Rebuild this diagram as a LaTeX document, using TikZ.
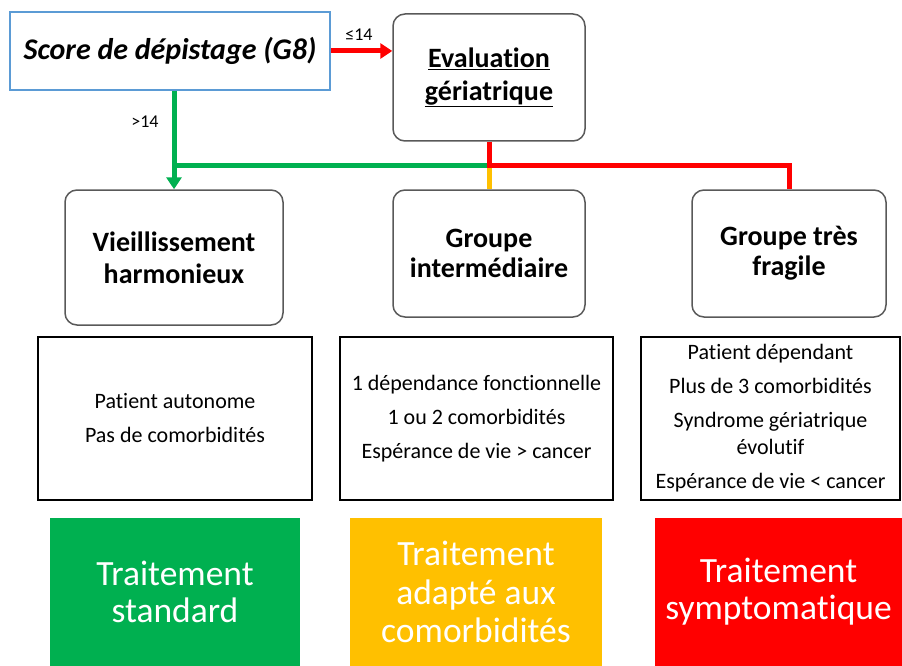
\documentclass[tikz,border=0pt]{standalone}
\usepackage{fontspec}
\setmainfont{Carlito}[Ligatures={NoCommon}]
\usetikzlibrary{arrows.meta}

\definecolor{vert}{HTML}{00B050}
\definecolor{orange}{HTML}{FFC000}
\definecolor{rouge}{HTML}{FF0000}
\definecolor{bleu}{HTML}{5B9BD5}
\definecolor{gris}{HTML}{595959}

\tikzset{
  etape/.style={draw=gris, line width=1.5pt, rounded corners=12pt, align=center,
    font=\fontsize{28}{32}\selectfont\bfseries},
  detail/.style={draw=black, line width=1.2pt, align=center, minimum height=163pt,
    font=\fontsize{22}{27}\selectfont},
  traitement/.style={align=center, text=white, minimum height=148pt,
    font=\fontsize{35.5}{37}\selectfont},
  lien/.style={line width=5pt},
  fleche/.style={line width=5pt, -{Triangle[length=12pt,width=15pt]}}
}

\begin{document}
\begin{tikzpicture}[x=1pt,y=-1pt]
      \useasboundingbox (0,0) rectangle (902,666);

      % depistage et evaluation
      \node [draw=bleu, line width=2pt, minimum width=320pt, minimum height=78pt,
        font=\fontsize{30}{34}\selectfont\bfseries\itshape] (score) at (170,51) {Score de dépistage (G8)};
      \node [etape, minimum width=192pt, minimum height=127pt, font=\fontsize{28}{33}\selectfont\bfseries] (eval) at (489,77.5)
        {\underline{Evaluation}\\\underline{gériatrique}};

      % groupes
      \node [etape, minimum width=218pt, minimum height=135pt] (vieil) at (174,257.5) {Vieillissement\\harmonieux};
      \node [etape, minimum width=192pt, minimum height=127pt, font=\fontsize{28}{30}\selectfont\bfseries] (inter) at (489,253.5) {Groupe\\intermédiaire};
      \node [etape, minimum width=194pt, minimum height=127pt, font=\fontsize{28}{30}\selectfont\bfseries] (fragile) at (789,253.5) {Groupe très\\fragile};

      % criteres
      \node [detail, minimum width=274pt] (critA) at (175,418.5) {Patient autonome\\[7pt]Pas de comorbidités};
      \node [detail, minimum width=273pt] (critB) at (476.5,418.5)
        {1 dépendance fonctionnelle\\[7pt]1 ou 2 comorbidités\\[7pt]Espérance de vie > cancer};
      \node [detail, minimum width=259pt] (critC) at (770.5,418.5)
        {Patient dépendant\\[7pt]Plus de 3 comorbidités\\[7pt]Syndrome gériatrique\\évolutif\\[7pt]Espérance de vie < cancer};

      % traitements
      \node [traitement, fill=vert, minimum width=250pt] (trtA) at (175,592) {Traitement\\standard};
      \node [traitement, fill=orange, minimum width=252pt, font=\fontsize{35.5}{38.5}\selectfont] (trtB) at (476,592)
        {Traitement\\adapté aux\\comorbidités};
      \node [traitement, fill=rouge, minimum width=247pt] (trtC) at (778.5,592) {Traitement\\symptomatique};

      % connecteurs
      \coordinate (split) at (eval.south |- 0,165);
      \draw [lien, orange] (split) -- (inter.north);
      \draw [lien, vert] (split) -- (split -| vieil.north);
      \draw [lien, rouge, line join=miter] (eval.south) -- (split) -- (split -| fragile.north) -- (fragile.north);
      \draw [fleche, vert] (vieil.north |- score.south) -- (vieil.north);
      \draw [fleche, rouge] (score.east) -- (score.east -| eval.west);
      \node [font=\fontsize{18}{20}\selectfont] at (359,35) {≤14};
      \node [font=\fontsize{18}{20}\selectfont] at (145,122) {>14};
    \end{tikzpicture}
\end{document}
